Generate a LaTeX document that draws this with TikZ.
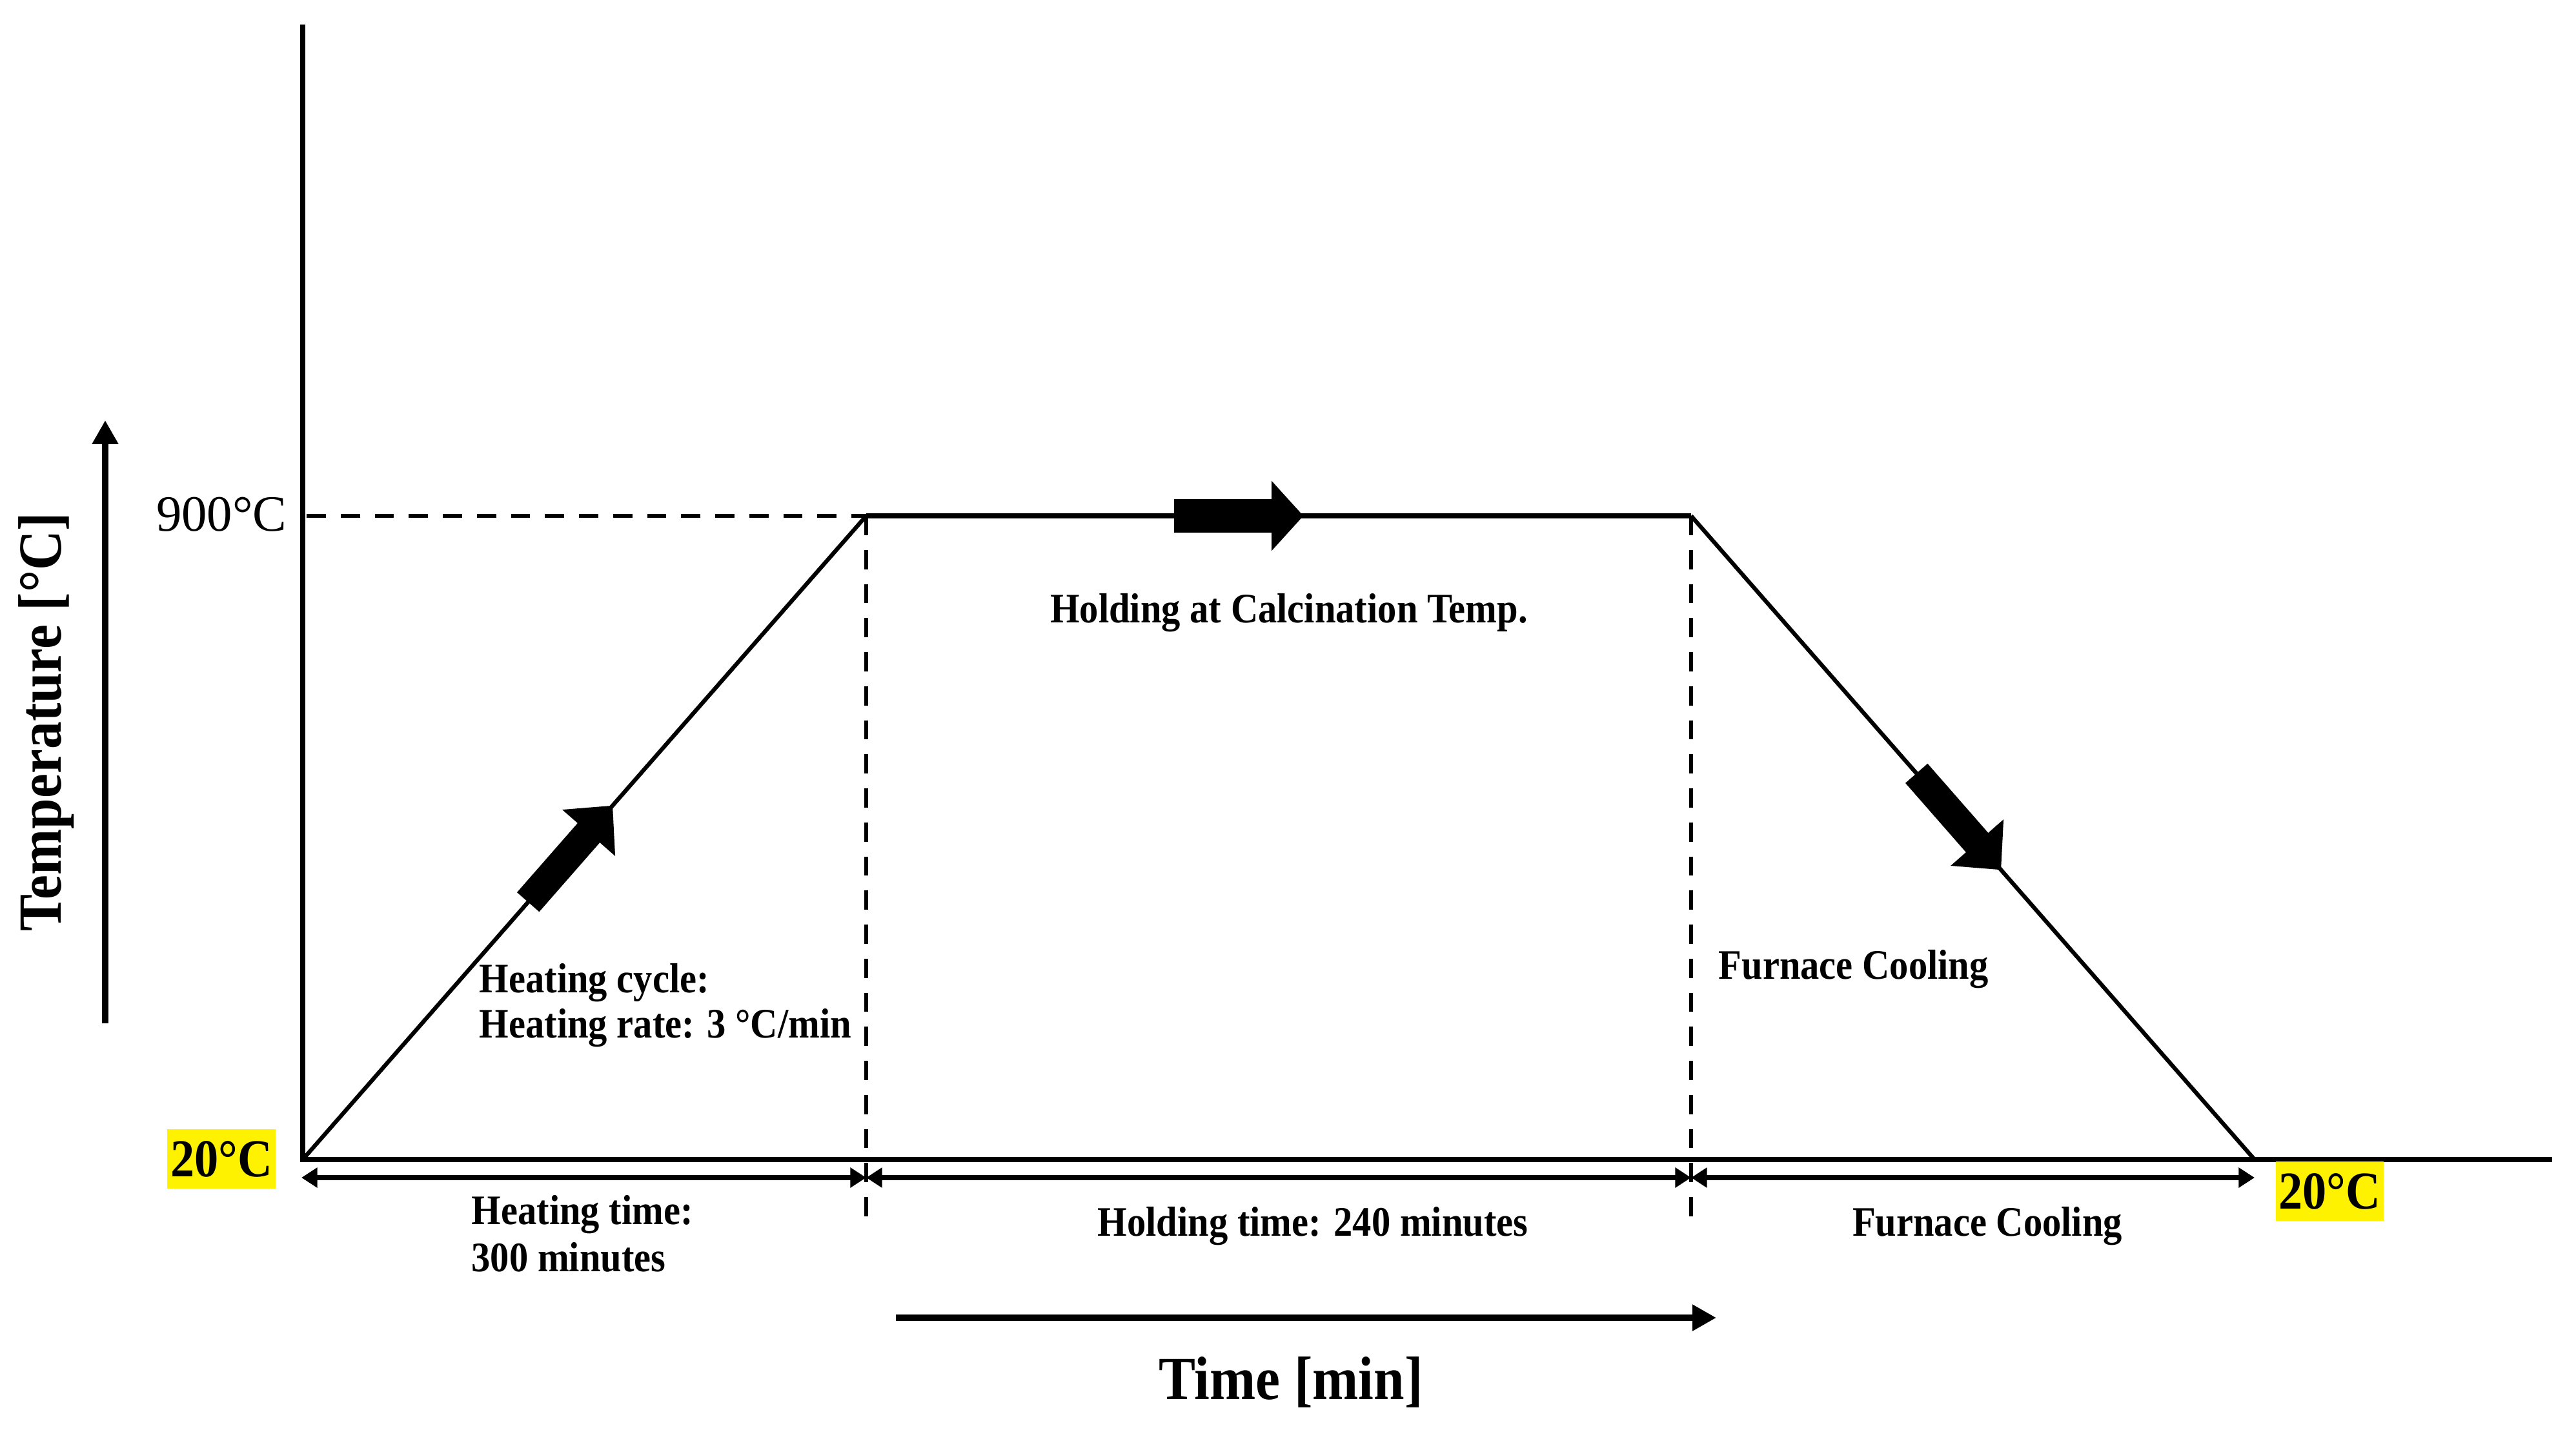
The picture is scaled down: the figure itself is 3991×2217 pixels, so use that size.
\documentclass[tikz,border=0pt]{standalone}
\usepackage{fontspec}
\setmainfont{Liberation Serif}[FakeStretch=0.9]
\newfontfamily\plainserif{Liberation Serif}
\usetikzlibrary{arrows.meta,calc}
\begin{document}
\begin{tikzpicture}[x=0.01cm,y=-0.01cm,
  axis/.style={line width=2.3pt},
  curve/.style={line width=1.8pt},
  hold/.style={line width=2.2pt},
  guide/.style={line width=1.9pt, dash pattern=on 8.5pt off 6.5pt},
  dimarrow/.style={line width=2.1pt, {Triangle[length=7pt,width=8.5pt]}-{Triangle[length=7pt,width=8.5pt]}},
  bigarrow/.style={line width=13pt, -{Triangle[length=16pt,width=30pt]}},
  axarrow/.style={line width=2.6pt, -{Triangle[length=10.5pt,width=11pt]}},
  lbl/.style={font=\bfseries\fontsize{18.5}{20}\selectfont, inner sep=0pt},
  biglbl/.style={font=\bfseries\fontsize{27}{30}\selectfont, inner sep=0pt},
  hl/.style={fill=yellow, font=\bfseries\fontsize{23.5}{26}\selectfont, inner sep=0pt, minimum width=47.5pt, minimum height=25.9pt}
]
\useasboundingbox (0,0) rectangle (3991,2217);
% key points
\coordinate (ytop) at (469,38);
\coordinate (O) at (469,1796);
\coordinate (xend) at (3954,1796);
\coordinate (A) at (1342,799);
\coordinate (B) at (2620,799);
\coordinate (E) at (3493,1796);
\coordinate (H) at (475,799);
\coordinate (lowy) at (0,1904);
\coordinate (D0) at (467,1824);
\coordinate (D1) at (1342,1824);
\coordinate (D2) at (2620,1824);
\coordinate (D3) at (3493,1824);
\coordinate (Tb) at (163,1585);
\coordinate (Tt) at (163,651);
\coordinate (ta) at (1388,2041);
\coordinate (tb) at (2659,2041);
% axes
\draw[axis] (ytop) -- (O) -- (xend);
% profile
\draw[curve] (O) -- (A);
\draw[hold] (A) -- (B);
\draw[curve] (B) -- (E);
% guides
\draw[guide] (H) -- (A);
\draw[guide] (A) -- (A |- lowy);
\draw[guide] (B) -- (B |- lowy);
% big arrows on the profile
\draw[bigarrow] ($(O)!0.40!(A)$) -- ($(O)!0.55!(A)$);
\draw[bigarrow, line width=14.8pt, -{Triangle[length=14pt,width=30pt]}] ($(A)!0.373!(B)$) -- ($(A)!0.53!(B)$);
\draw[bigarrow] ($(B)!0.40!(E)$) -- ($(B)!0.55!(E)$);
% dimension arrows
\draw[dimarrow] (D0) -- (D1);
\draw[dimarrow] (D1) -- (D2);
\draw[dimarrow] (D2) -- (D3);
% axis direction arrows
\draw[axarrow] (Tb) -- (Tt);
\draw[axarrow] (ta) -- (tb);
% labels
\node[biglbl, rotate=90] (tlab) at (72,1118) {Temperature [°C]};
\node[biglbl, anchor=base] (xlab) at (2000,2167) {Time [min]};
\node[inner sep=0pt, anchor=base east, font=\plainserif\fontsize{22.4}{25}\selectfont] (t900) at (445,822) {900°C};
\node[hl] (t20a) at (343,1795) {20°C};
\node[hl] (t20b) at (3609,1845) {20°C};
\node[lbl, anchor=base west] (hc1) at (742,1537) {Heating cycle:};
\node[lbl, anchor=base west] (hc2) at (742,1607) {Heating rate: 3 °C/min};
\node[lbl, anchor=base] (hold) at (1997,964) {Holding at Calcination Temp.};
\node[lbl, anchor=base west] (fc1) at (2662,1516) {Furnace Cooling};
\node[lbl, anchor=base west] (ht1) at (730,1896) {Heating time:};
\node[lbl, anchor=base west] (ht2) at (730,1969) {300 minutes};
\node[lbl, anchor=base] (hdt) at (2034,1914) {Holding time: 240 minutes};
\node[lbl, anchor=base] (fc2) at (3079,1914) {Furnace Cooling};
\end{tikzpicture}
\end{document}
